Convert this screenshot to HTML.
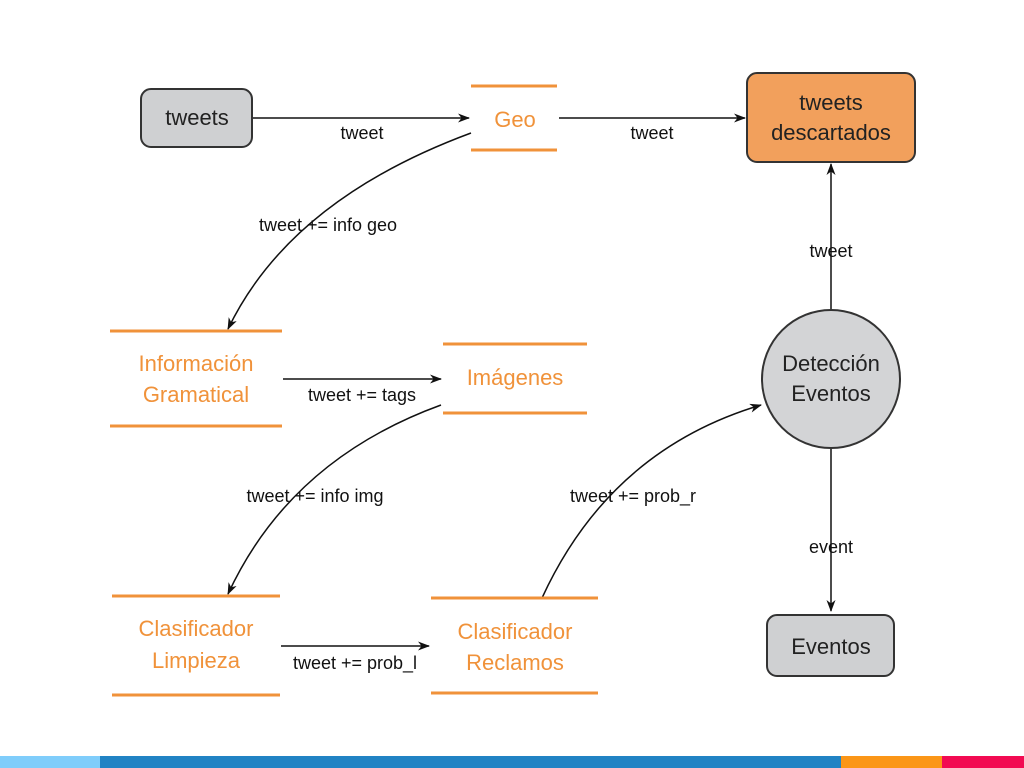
<!DOCTYPE html>
<html><head><meta charset="utf-8"><style>
html,body{margin:0;padding:0;background:#fff;width:1024px;height:768px;overflow:hidden}
svg{display:block}
text{font-family:"Liberation Sans",sans-serif}
</style></head><body>
<svg width="1024" height="768" viewBox="0 0 1024 768">
<defs><marker id="a" markerWidth="12" markerHeight="9" refX="11" refY="4.5" orient="auto" markerUnits="userSpaceOnUse"><path d="M0,0 L12,4.5 L0,9 L3.5,4.5 Z" fill="#111"/></marker></defs>
<g stroke="#111" stroke-width="1.5" fill="none" marker-end="url(#a)">
<line x1="252" y1="118" x2="469" y2="118"/>
<line x1="559" y1="118" x2="745" y2="118"/>
<path d="M471,133 Q290,200 228,329"/>
<line x1="283" y1="379" x2="441" y2="379"/>
<path d="M441,405 Q290,460 228,594"/>
<line x1="281" y1="646" x2="429" y2="646"/>
<path d="M542,598 Q610,450 761,405"/>
<line x1="831" y1="309" x2="831" y2="164"/>
<line x1="831" y1="449" x2="831" y2="611"/>
</g>
<rect x="141" y="89" width="111" height="58" rx="10" fill="#cfd0d2" stroke="#333" stroke-width="2"/>
<rect x="747" y="73" width="168" height="89" rx="10" fill="#f2a05c" stroke="#333" stroke-width="2"/>
<rect x="767" y="615" width="127" height="61" rx="10" fill="#cfd0d2" stroke="#333" stroke-width="2"/>
<circle cx="831" cy="379" r="69" fill="#d3d4d6" stroke="#333" stroke-width="2"/>
<g stroke="#f0923a" stroke-width="3">
<line x1="471" y1="86" x2="557" y2="86"/><line x1="471" y1="150" x2="557" y2="150"/>
<line x1="110" y1="331" x2="282" y2="331"/><line x1="110" y1="426" x2="282" y2="426"/>
<line x1="443" y1="344" x2="587" y2="344"/><line x1="443" y1="413" x2="587" y2="413"/>
<line x1="112" y1="596" x2="280" y2="596"/><line x1="112" y1="695" x2="280" y2="695"/>
<line x1="431" y1="598" x2="598" y2="598"/><line x1="431" y1="693" x2="598" y2="693"/>
</g>
<g font-size="22" text-anchor="middle" fill="#222">
<text x="197" y="125">tweets</text>
<text x="831" y="110">tweets</text><text x="831" y="140">descartados</text>
<text x="831" y="371">Detección</text><text x="831" y="401">Eventos</text>
<text x="831" y="654">Eventos</text>
</g>
<g font-size="22" text-anchor="middle" fill="#f0923a">
<text x="515" y="127">Geo</text>
<text x="196" y="371">Información</text><text x="196" y="402">Gramatical</text>
<text x="515" y="385">Imágenes</text>
<text x="196" y="636">Clasificador</text><text x="196" y="668">Limpieza</text>
<text x="515" y="639">Clasificador</text><text x="515" y="670">Reclamos</text>
</g>
<g font-size="18" text-anchor="middle" fill="#111">
<text x="362" y="139">tweet</text>
<text x="652" y="139">tweet</text>
<text x="328" y="231">tweet += info geo</text>
<text x="362" y="401">tweet += tags</text>
<text x="315" y="502">tweet += info img</text>
<text x="355" y="669">tweet += prob_l</text>
<text x="633" y="502">tweet += prob_r</text>
<text x="831" y="257">tweet</text>
<text x="831" y="553">event</text>
</g>
<rect x="0" y="756" width="100" height="12" fill="#7fcdfb"/>
<rect x="100" y="756" width="741" height="12" fill="#2183c4"/>
<rect x="841" y="756" width="101" height="12" fill="#fb9617"/>
<rect x="942" y="756" width="82" height="12" fill="#f20a52"/>
</svg>
</body></html>
